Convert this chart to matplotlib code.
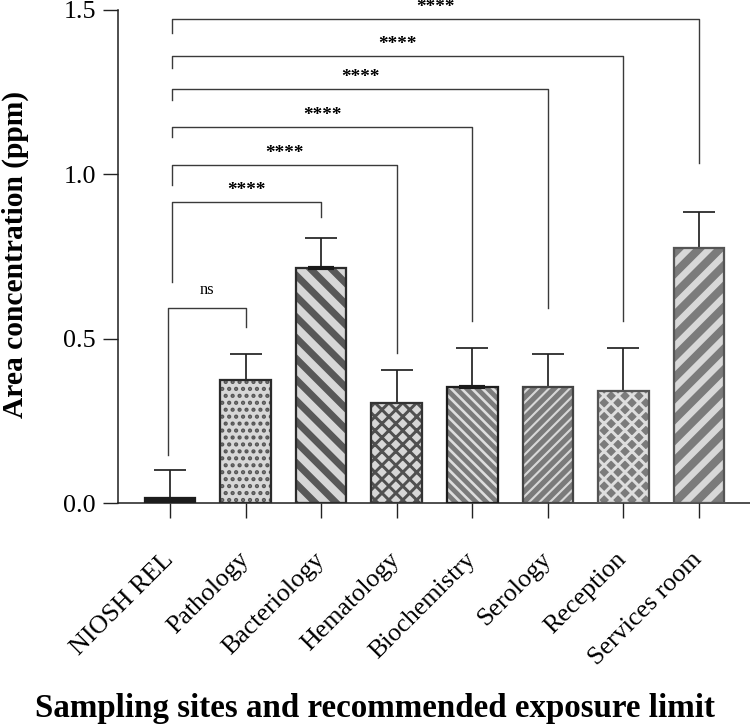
import matplotlib as mpl
import matplotlib.pyplot as plt
import numpy as np

mpl.rcParams['font.family'] = ['Liberation Serif', 'DejaVu Serif']

sites = ['NIOSH REL', 'Pathology', 'Bacteriology', 'Hematology',
         'Biochemistry', 'Serology', 'Reception', 'Services room']
means = [0.015, 0.375, 0.714, 0.305, 0.354, 0.354, 0.342, 0.776]
sd = [0.085, 0.079, 0.091, 0.099, 0.117, 0.099, 0.129, 0.108]

# comparisons against NIOSH REL (index 0)
cmp_to = [1, 2, 3, 4, 5, 6, 7]
cmp_text = ['ns', '****', '****', '****', '****', '****', '****']
cmp_y = [0.593, 0.916, 1.028, 1.144, 1.259, 1.360, 1.472]
cmp_left_end = [0.146, 0.672, 0.967, 1.113, 1.226, 1.323, 1.430]
cmp_right_end = [0.535, 0.870, 0.456, 0.554, 0.593, 0.554, 1.034]

# bar styles: fill, hatch, hatch colour, hatch width, edge colour
styles = [
    ('#1c1c1c', '', '#1c1c1c', 1.0, '#1c1c1c'),
    ('#d7d7d7', '...', '#555555', 1.6, '#2b2b2b'),
    ('#d7d7d7', '\\\\', '#585858', 4.0, '#2b2b2b'),
    ('#d7d7d7', 'xxx', '#505050', 1.7, '#333333'),
    ('#7b7b7b', '\\\\\\\\', '#dedede', 1.5, '#1e1e1e'),
    ('#7b7b7b', '////', '#d8d8d8', 1.2, '#444444'),
    ('#7b7b7b', 'xxx', '#dedede', 1.7, '#555555'),
    ('#7b7b7b', '//', '#d8d8d8', 3.8, '#555555'),
]

fig = plt.figure(figsize=(6, 5.792), dpi=125)
ax = fig.add_axes([0.1573, 0.3052, 0.8427, 0.681])

x = np.arange(len(sites))
width = 0.67

for i in range(len(sites)):
    fill, hatch, hcol, hlw, ecol = styles[i]
    with plt.rc_context({'hatch.linewidth': hlw}):
        b = ax.bar(x[i], means[i], width, color=fill, hatch=hatch,
                   edgecolor=hcol, linewidth=0, zorder=2)
    for p in b:
        if hasattr(p, 'set_hatch_linewidth'):
            p.set_hatch_linewidth(hlw)
    ax.bar(x[i], means[i], width, color='none', edgecolor=ecol,
           linewidth=1.3, zorder=3)

ax.errorbar(x, means, yerr=[np.zeros(len(sd)), sd], fmt='none',
            ecolor='#222222', elinewidth=1.0, capsize=9.2, capthick=1.0,
            zorder=1)

# short thick marks sitting on some bar tops
for i in [2, 4]:
    ax.hlines(means[i], x[i] - 0.17, x[i] + 0.17, color='#1a1a1a',
              linewidth=2.4, zorder=4)

for j, t in enumerate(cmp_to):
    x0 = x[0] + 0.03 if j > 0 else x[0] - 0.02
    x1 = x[t]
    ax.plot([x0, x0, x1, x1],
            [cmp_left_end[j], cmp_y[j], cmp_y[j], cmp_right_end[j]],
            color='#3a3a3a', linewidth=0.8, clip_on=False, zorder=5)
    if cmp_text[j] == 'ns':
        ax.text((x0 + x1) / 2, cmp_y[j] + 0.03, 'ns', ha='center',
                va='bottom', fontsize=9.5, clip_on=False)
    else:
        ax.text((x0 + x1) / 2, cmp_y[j] + 0.036, '****', ha='center',
                va='center', fontsize=11, fontweight='bold', clip_on=False)

ax.set_xlim(-0.688, 7.675)
ax.set_ylim(0, 1.5)
ax.set_yticks([0.0, 0.5, 1.0, 1.5])
ax.set_yticklabels(['0.0', '0.5', '1.0', '1.5'], fontsize=15)
ax.set_xticks(x)
ax.set_xticklabels(sites, rotation=45, ha='right', va='center',
                   rotation_mode='anchor', fontsize=15)

for s in ['top', 'right']:
    ax.spines[s].set_visible(False)
for s in ['left', 'bottom']:
    ax.spines[s].set_linewidth(0.9)
    ax.spines[s].set_color('#222222')
ax.tick_params(axis='both', length=8.6, width=0.8, color='#222222')
ax.tick_params(axis='x', pad=22)
ax.tick_params(axis='y', pad=4)

ax.set_ylabel('Area concentration (ppm)', fontsize=17, fontweight='bold')
ax.yaxis.set_label_coords(-0.141, 0.505)
fig.text(0.5, 0.022, 'Sampling sites and recommended exposure limit',
         ha='center', va='center', fontsize=19, fontweight='bold')

fig.savefig('out.png', dpi=125)
